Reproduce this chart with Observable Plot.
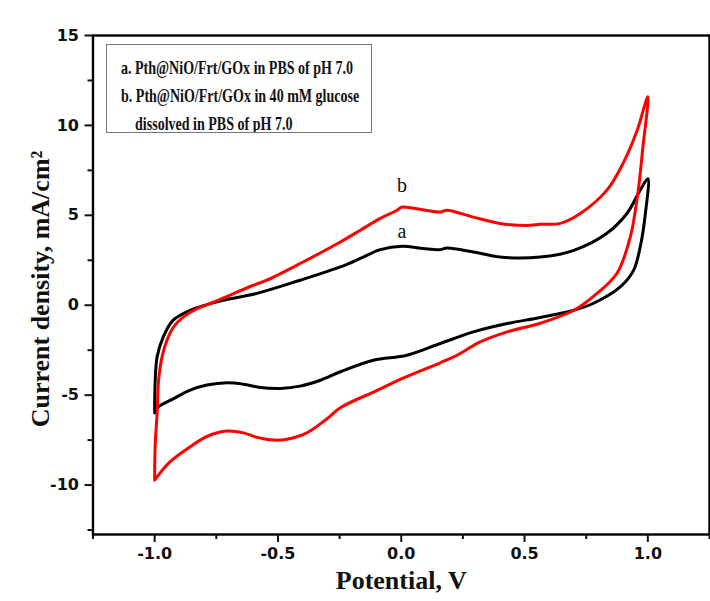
<!DOCTYPE html>
<html>
<head>
<meta charset="utf-8">
<script src="https://cdn.jsdelivr.net/npm/d3@7"></script>
<script src="https://cdn.jsdelivr.net/npm/@observablehq/plot@0.6"></script>
<style>
  html, body { margin: 0; padding: 0; background: #fff; }
  #wrap { position: relative; width: 710px; height: 601px; }
  #legend {
    position: absolute; left: 106px; top: 44px; width: 266px; height: 89px;
    border: 1.5px solid #777; box-sizing: border-box; background: #fff; overflow: hidden;
  }
  #legendInner {
    position: absolute; left: 14px; top: 9px; transform-origin: 0 0;
    font-family: "Liberation Serif", "Times New Roman", serif; font-weight: bold;
    font-size: 19px; color: #111; line-height: 28px;
  }
  #legendInner span { display: block; white-space: nowrap; width: max-content; }
</style>
</head>
<body>
<div id="wrap"></div>
<script>
// Curve a: Pth@NiO/Frt/GOx in PBS (black), [potential V, current mA/cm2] in scan order
const curveA = [
  [-1.0,-6.0],[-0.99,-2.87],[-0.965,-1.76],[-0.925,-0.83],[-0.856,-0.28],[-0.72,0.28],
  [-0.585,0.66],[-0.41,1.39],[-0.247,2.13],[-0.166,2.6],[-0.085,3.09],[0.003,3.28],
  [0.09,3.15],[0.158,3.09],[0.185,3.18],[0.293,2.96],[0.40,2.68],[0.564,2.68],
  [0.70,3.05],[0.834,4.0],[0.915,5.1],[0.969,6.4],[1.0,7.04],
  [0.99,5.1],[0.969,3.24],[0.942,1.94],[0.888,1.02],[0.78,0.11],[0.70,-0.28],
  [0.564,-0.68],[0.43,-1.02],[0.293,-1.48],[0.158,-2.13],[0.023,-2.78],[-0.113,-3.06],
  [-0.247,-3.7],[-0.328,-4.17],[-0.41,-4.5],[-0.49,-4.63],[-0.572,-4.57],[-0.64,-4.39],
  [-0.707,-4.31],[-0.788,-4.44],[-0.856,-4.72],[-0.923,-5.19],[-0.985,-5.65],[-1.0,-5.85]
];
// Curve b: Pth@NiO/Frt/GOx in 40 mM glucose (red)
const curveB = [
  [-1.0,-9.72],[-0.998,-7.87],[-0.99,-6.0],[-0.984,-4.17],[-0.97,-2.87],[-0.95,-1.94],
  [-0.923,-1.2],[-0.883,-0.65],[-0.828,-0.19],[-0.76,0.18],[-0.68,0.65],[-0.6,1.11],
  [-0.545,1.39],[-0.4,2.39],[-0.247,3.52],[-0.166,4.17],[-0.085,4.83],[-0.017,5.28],
  [0.003,5.46],[0.05,5.39],[0.158,5.18],[0.185,5.28],[0.292,4.9],[0.40,4.55],
  [0.51,4.44],[0.564,4.5],[0.645,4.55],[0.726,5.1],[0.834,6.4],[0.90,7.9],[0.956,9.7],[1.0,11.6],
  [0.98,8.8],[0.961,6.4],[0.929,3.8],[0.875,1.78],[0.794,0.66],[0.70,-0.28],[0.564,-1.0],
  [0.43,-1.48],[0.32,-2.04],[0.226,-2.78],[0.158,-3.2],[0.0,-4.1],[-0.1,-4.75],[-0.247,-5.7],
  [-0.30,-6.3],[-0.383,-7.1],[-0.463,-7.45],[-0.518,-7.5],[-0.585,-7.35],[-0.64,-7.1],
  [-0.707,-7.0],[-0.788,-7.3],[-0.856,-7.87],[-0.937,-8.7],[-1.0,-9.72]
];
const xMajor = [-1.0, -0.5, 0.0, 0.5, 1.0];
const xMinor = [-1.25, -0.75, -0.25, 0.25, 0.75, 1.25];
const yMajor = [-10, -5, 0, 5, 10, 15];
const yMinor = [-12.5, -7.5, -2.5, 2.5, 7.5, 12.5];
const legendLines = [
  "a. Pth@NiO/Frt/GOx in PBS of pH 7.0",
  "b. Pth@NiO/Frt/GOx in 40 mM glucose",
  "\u00a0\u00a0\u00a0\u00a0dissolved in PBS of pH 7.0"
];
const xTitle = "Potential, V";
const yTitle = "Current density, mA/cm\u00b2";

const toRows = (arr) => arr.map(([x, y]) => ({x, y}));
const rowsA = toRows(curveA), rowsB = toRows(curveB);
const peakA = rowsA.filter(d => Math.abs(d.x) < 0.2).reduce((a, b) => b.y > a.y ? b : a);
const peakB = rowsB.filter(d => Math.abs(d.x) < 0.2).reduce((a, b) => b.y > a.y ? b : a);

const tickFont = {fontFamily: "DejaVu Sans, Verdana, sans-serif", fontWeight: "bold", fontSize: 16};
const titleFont = {fontFamily: "Liberation Serif, Times New Roman, serif", fontWeight: "bold", fontSize: 26};

const chart = Plot.plot({
  width: 710, height: 601,
  marginLeft: 92.5, marginRight: 1, marginTop: 35, marginBottom: 67,
  x: {domain: [-1.25, 1.25]},
  y: {domain: [-12.75, 15]},
  style: {background: "#fff", color: "#111"},
  marks: [
    Plot.line(rowsA, {x: "x", y: "y", stroke: "#000", strokeWidth: 3, curve: "catmull-rom"}),
    Plot.line(rowsB, {x: "x", y: "y", stroke: "#ff0000", strokeWidth: 3, curve: "catmull-rom"}),
    Plot.text([peakA], {x: "x", y: "y", text: () => "a", dy: -15, fontFamily: "Liberation Serif, serif", fontSize: 20, fill: "#111"}),
    Plot.text([peakB], {x: "x", y: "y", text: () => "b", dy: -21, fontFamily: "Liberation Serif, serif", fontSize: 20, fill: "#111"}),
    Plot.frame({stroke: "#000", strokeWidth: 2.4}),
    Plot.axisX({ticks: xMajor, tickSize: 8, tickPadding: 5, strokeWidth: 2, tickFormat: d => d.toFixed(1), label: null, ...tickFont}),
    Plot.axisX({ticks: xMinor, tickSize: 5, strokeWidth: 2, tickFormat: () => "", label: null}),
    Plot.axisY({ticks: yMajor, tickSize: 8, tickPadding: 6, strokeWidth: 2, tickFormat: d => d.toFixed(0), label: null, ...tickFont}),
    Plot.axisY({ticks: yMinor, tickSize: 5, strokeWidth: 2, tickFormat: () => "", label: null}),
    Plot.text([xTitle], {frameAnchor: "bottom", textAnchor: "middle", lineAnchor: "middle", dy: 46, ...titleFont, fill: "#111"}),
    Plot.text([yTitle], {frameAnchor: "left", textAnchor: "middle", lineAnchor: "middle", dx: -52, dy: 4, rotate: -90, ...titleFont, fill: "#111"})
  ]
});
const wrap = document.getElementById("wrap");
wrap.appendChild(chart);
const legend = document.createElement("div");
legend.id = "legend";
const inner = document.createElement("div");
inner.id = "legendInner";
const spans = legendLines.map(line => {
  const s = document.createElement("span");
  s.textContent = line;
  inner.appendChild(s);
  return s;
});
legend.appendChild(inner);
wrap.appendChild(legend);
// condense the legend text horizontally to the width it has in the figure
const natural = spans[0].getBoundingClientRect().width;
const k = natural > 0 ? 232 / natural : 1;
inner.style.transform = `scaleX(${k})`;
</script>
</body>
</html>
